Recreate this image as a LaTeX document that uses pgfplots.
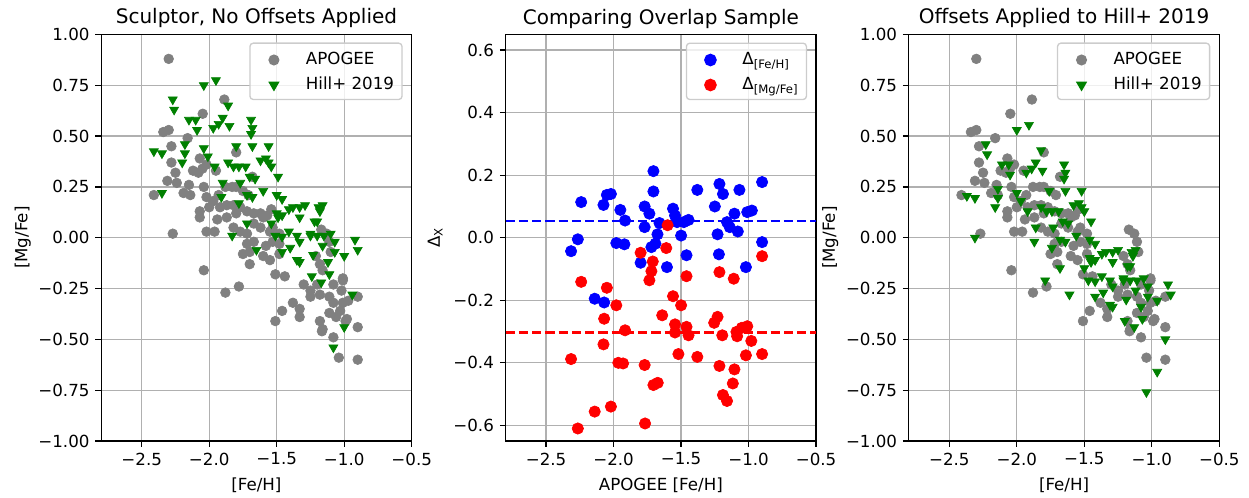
\documentclass[border=0pt]{standalone}
\usepackage{fontspec}
\setmainfont{DejaVu Sans}
\usepackage{pgfplots}
\pgfplotsset{compat=1.18}
\definecolor{mgray}{HTML}{808080}
\definecolor{mgreen}{HTML}{008000}
\definecolor{mblue}{HTML}{0000FF}
\definecolor{mred}{HTML}{FF0000}
\definecolor{gridc}{HTML}{B0B0B0}
\definecolor{legedge}{HTML}{CCCCCC}

\pgfplotstableread{
x y
-2.30 0.88
-1.888 0.68
-2.048 0.61
-2.30 0.53
-2.34 0.52
-2.16 0.49
-2.28 0.45
-1.80 0.42
-2.28 0.37
-2.07 0.39
-2.12 0.33
-2.08 0.32
-2.05 0.34
-2.02 0.36
-1.95 0.33
-1.68 0.30
-2.25 0.32
-2.31 0.28
-2.24 0.27
-2.15 0.26
-2.41 0.21
-2.19 0.22
-2.14 0.21
-2.04 0.25
-2.02 0.20
-1.97 0.18
-1.93 0.21
-1.88 0.25
-1.83 0.25
-1.80 0.25
-1.75 0.23
-1.71 0.21
-2.07 0.13
-2.07 0.10
-2.00 0.15
-1.92 0.15
-1.87 0.16
-1.82 0.16
-1.77 0.15
-1.72 0.13
-1.67 0.12
-1.62 0.12
-1.57 0.11
-1.54 0.14
-2.27 0.02
-2.02 0.03
-1.96 0.03
-1.82 0.05
-1.77 0.03
-1.72 0.02
-1.67 0.07
-1.62 0.05
-1.55 0.03
-1.17 0.04
-1.94 0.09
-1.87 0.10
-1.80 0.12
-1.60 0.10
-1.53 0.05
-1.48 0.02
-1.72 -0.03
-1.70 -0.07
-1.75 -0.08
-1.67 -0.02
-1.70 -0.13
-1.60 -0.09
-1.55 -0.11
-1.58 -0.04
-1.53 -0.02
-1.48 -0.03
-1.48 -0.08
-2.04 -0.16
-1.51 -0.18
-1.44 -0.19
-1.88 -0.27
-1.78 -0.24
-1.30 -0.23
-1.25 -0.26
-1.20 -0.23
-1.25 -0.29
-1.18 -0.28
-1.13 0.02
-1.11 -0.02
-1.10 -0.07
-1.21 -0.09
-1.18 -0.13
-1.16 -0.16
-1.08 -0.23
-1.01 -0.21
-1.01 -0.20
-1.02 -0.26
-1.11 -0.29
-1.08 -0.32
-1.01 -0.32
-1.03 -0.36
-0.98 -0.40
-0.99 -0.41
-1.38 -0.32
-1.33 -0.35
-1.46 -0.36
-1.33 -0.39
-1.51 -0.41
-1.18 -0.41
-1.16 -0.45
-1.165 -0.46
-1.08 -0.49
-1.11 -0.37
-1.06 -0.39
-1.04 -0.59
-0.90 -0.44
-0.90 -0.60
-0.90 -0.29
-0.97 -0.31
}\apogee

\pgfplotstableread{
x y
-1.95 0.775
-2.04 0.75
-2.27 0.68
-2.26 0.63
-2.15 0.58
-2.10 0.58
-2.09 0.53
-1.97 0.54
-1.93 0.56
-1.90 0.59
-1.85 0.55
-1.86 0.65
-1.69 0.58
-1.68 0.54
-1.69 0.51
-2.41 0.425
-2.35 0.415
-2.18 0.46
-2.18 0.415
-2.20 0.37
-2.04 0.44
-2.01 0.40
-1.80 0.45
-1.68 0.45
-1.56 0.45
-1.96 0.35
-1.86 0.37
-1.82 0.35
-1.78 0.35
-1.73 0.35
-1.62 0.38
-1.58 0.39
-1.56 0.37
-1.54 0.35
-1.49 0.30
-1.70 0.30
-1.66 0.29
-1.90 0.27
-1.77 0.27
-2.35 0.22
-1.91 0.20
-1.72 0.21
-1.68 0.20
-1.60 0.23
-1.78 0.17
-1.50 0.21
-1.46 0.19
-1.41 0.14
-1.38 0.15
-1.33 0.15
-1.29 0.16
-1.33 0.10
-1.19 0.15
-1.16 0.16
-1.18 0.13
-1.20 0.08
-1.50 0.12
-1.49 0.10
-1.72 0.07
-1.54 0.07
-1.83 0.01
-1.25 0.01
-1.20 0.01
-1.15 0.01
-1.10 0.02
-0.92 -0.01
-1.46 0.11
-1.22 0.08
-1.51 0.01
-1.46 0.005
-1.41 0.03
-1.35 0.01
-1.33 -0.02
-1.25 0.02
-1.07 -0.02
-1.16 -0.04
-1.07 -0.07
-1.00 -0.09
-1.65 -0.06
-1.46 -0.07
-1.40 -0.05
-1.35 -0.11
-1.33 -0.12
-1.23 -0.085
-1.12 -0.12
-1.11 -0.18
-1.24 -0.19
-1.17 -0.22
-0.90 -0.06
-0.94 -0.28
-1.00 -0.44
-1.08 -0.54
}\hillraw

\pgfplotstableread{
x y
-1.91 0.555
-2.00 0.53
-2.23 0.46
-2.22 0.41
-2.11 0.36
-2.06 0.36
-2.05 0.31
-1.93 0.32
-1.89 0.34
-1.86 0.37
-1.81 0.33
-1.82 0.43
-1.65 0.36
-1.64 0.32
-1.65 0.29
-2.37 0.205
-2.31 0.195
-2.14 0.24
-2.14 0.195
-2.16 0.15
-2.00 0.22
-1.97 0.18
-1.76 0.23
-1.64 0.23
-1.52 0.23
-1.92 0.13
-1.82 0.15
-1.78 0.13
-1.74 0.13
-1.69 0.13
-1.58 0.16
-1.54 0.17
-1.52 0.15
-1.50 0.13
-1.45 0.08
-1.66 0.08
-1.62 0.07
-1.86 0.05
-1.73 0.05
-2.31 0.00
-1.87 -0.02
-1.68 -0.01
-1.64 -0.02
-1.56 0.01
-1.74 -0.05
-1.46 -0.01
-1.42 -0.03
-1.37 -0.08
-1.34 -0.07
-1.29 -0.07
-1.25 -0.06
-1.29 -0.12
-1.15 -0.07
-1.12 -0.06
-1.14 -0.09
-1.16 -0.14
-1.46 -0.10
-1.45 -0.12
-1.68 -0.15
-1.50 -0.15
-1.79 -0.21
-1.21 -0.21
-1.16 -0.21
-1.11 -0.21
-1.06 -0.20
-0.88 -0.23
-1.42 -0.11
-1.18 -0.14
-1.47 -0.21
-1.42 -0.215
-1.37 -0.19
-1.31 -0.21
-1.29 -0.24
-1.21 -0.20
-1.03 -0.24
-1.12 -0.26
-1.03 -0.29
-0.96 -0.31
-1.61 -0.28
-1.42 -0.29
-1.36 -0.27
-1.31 -0.33
-1.29 -0.34
-1.19 -0.305
-1.08 -0.34
-1.07 -0.40
-1.20 -0.41
-1.13 -0.44
-0.86 -0.28
-0.90 -0.50
-0.96 -0.66
-1.04 -0.76
}\hillshift

\pgfplotstableread{
x y
-1.705 0.213
-0.90 0.178
-1.705 0.148
-1.38 0.153
-1.216 0.172
-1.19 0.14
-1.068 0.153
-2.24 0.114
-2.075 0.105
-2.05 0.137
-2.02 0.14
-1.95 0.089
-1.915 0.055
-1.77 0.10
-1.735 0.077
-1.77 0.034
-1.66 0.047
-1.675 0.011
-1.56 0.093
-1.545 0.071
-1.53 0.05
-1.445 0.057
-1.48 0.05
-1.50 0.007
-1.25 0.10
-1.105 0.077
-1.16 0.05
-1.14 0.034
-1.08 0.02
-1.01 0.082
-0.976 0.087
-1.23 0.011
-2.265 -0.005
-2.315 -0.043
-1.98 -0.017
-1.92 -0.021
-1.80 -0.08
-1.72 -0.03
-1.69 -0.019
-1.605 -0.094
-1.46 -0.056
-1.22 -0.053
-1.02 -0.094
-0.90 -0.014
-2.14 -0.195
-2.07 -0.207
}\dfeh

\pgfplotstableread{
x y
-1.60 0.04
-1.80 -0.048
-1.61 -0.033
-1.71 -0.076
-1.72 -0.107
-1.735 -0.136
-2.24 -0.141
-2.05 -0.16
-1.46 -0.123
-1.216 -0.11
-1.11 -0.131
-0.90 -0.059
-1.56 -0.187
-1.50 -0.216
-1.98 -0.216
-2.07 -0.259
-1.64 -0.248
-1.915 -0.296
-1.545 -0.277
-1.46 -0.285
-1.545 -0.303
-1.445 -0.312
-1.255 -0.272
-1.23 -0.253
-1.195 -0.312
-1.09 -0.301
-1.05 -0.288
-1.01 -0.283
-1.085 -0.315
-0.98 -0.33
-2.075 -0.341
-2.315 -0.388
-1.965 -0.40
-1.93 -0.402
-1.52 -0.372
-1.38 -0.381
-1.02 -0.376
-0.90 -0.372
-1.77 -0.407
-1.216 -0.41
-1.105 -0.421
-1.117 -0.466
-1.705 -0.471
-1.673 -0.464
-1.19 -0.503
-1.16 -0.522
-2.14 -0.556
-2.02 -0.54
-2.265 -0.61
-1.767 -0.594
}\dmgfe

\pgfplotsset{
  panel/.style={
    scale only axis, width=186.3pt, height=243.9pt, anchor=south west,
    xmin=-2.8, xmax=-0.5,
    xtick={-2.5,-2,-1.5,-1,-0.5},
    xticklabels={−2.5,−2.0,−1.5,−1.0,−0.5},
    xtick pos=left, ytick pos=left,
    tick align=outside, major tick length=3.5pt,
    tick style={black, line width=0.8pt},
    axis line style={line width=0.8pt},
    grid=major, major grid style={gridc, line width=0.8pt},
    tick label style={font=\fontsize{10}{12}\selectfont},
    label style={font=\fontsize{10}{12}\selectfont},
    title style={font=\fontsize{12}{14}\selectfont, at={(0.5,1)}, anchor=base, yshift=0.3pt},
    xlabel style={at={(axis description cs:0.5,0)}, anchor=base, yshift=-30pt},
    legend cell align=left,
    legend style={at={(1,1)}, anchor=north east, xshift=-5.4pt, yshift=-4.8pt,
      draw=legedge, line width=0.8pt, rounded corners=2pt, fill=white, fill opacity=0.8,
      text opacity=1, inner xsep=4.8pt, inner ysep=1.9pt, row sep=0pt,
      font=\fontsize{10}{12}\selectfont,
      nodes={inner xsep=0pt, inner ysep=0pt, text height=11.15pt, text depth=3.85pt}},
    legend image code/.code={\path[draw=none] (0pt,0pt) -- (28.8pt,0pt);
      \path[#1, draw=none, fill opacity=1] plot coordinates {(9.6pt,-0.7pt)};},
  },
  apo/.style={only marks, mark=*, mark size=2.9pt, mgray, mark options={draw=none, fill=mgray}},
  hil/.style={only marks, mark=triangle*, mark size=3.1pt, mgreen, mark options={draw=none, fill=mgreen, rotate=180}},
}

\begin{document}
\begin{tikzpicture}
\useasboundingbox (0pt,0pt) rectangle (749.4pt,298.8pt);

% Panel 1
\begin{axis}[panel, at={(60.72pt,34.2pt)},
  ymin=-1, ymax=1,
  ytick={-1,-0.75,-0.5,-0.25,0,0.25,0.5,0.75,1},
  yticklabels={−1.00,−0.75,−0.50,−0.25,0.00,0.25,0.50,0.75,1.00},
  title={Sculptor, No Offsets Applied},
  xlabel={[Fe/H]}, ylabel={[Mg/Fe]},
  ylabel style={at={(axis description cs:-0.238,0.5)}, anchor=base, rotate=0},
]
\addplot[apo] table[x=x,y=y] {\apogee};
\addlegendentry{APOGEE}
\addplot[hil] table[x=x,y=y] {\hillraw};
\addlegendentry{Hill+ 2019}
\end{axis}

% Panel 2
\begin{axis}[panel, at={(303.36pt,34.2pt)},
  ymin=-0.65, ymax=0.65,
  ytick={-0.6,-0.4,-0.2,0,0.2,0.4,0.6},
  yticklabels={−0.6,−0.4,−0.2,0.0,0.2,0.4,0.6},
  title={Comparing Overlap Sample},
  xlabel={APOGEE [Fe/H]}, ylabel={Δ\textsubscript{X}},
  ylabel style={at={(axis description cs:-0.2115,0.5)}, anchor=base, rotate=0},
]
\addplot[only marks, mark=*, mark size=3.4pt, mblue, mark options={draw=none, fill=mblue}] table[x=x,y=y] {\dfeh};
\addlegendentry{Δ\textsubscript{[Fe/H]}}
\addplot[only marks, mark=*, mark size=3.4pt, mred, mark options={draw=none, fill=mred}] table[x=x,y=y] {\dmgfe};
\addlegendentry{Δ\textsubscript{[Mg/Fe]}}
\addplot[mblue, line width=1.5pt, dash pattern=on 5.55pt off 2.4pt, forget plot] coordinates {(-2.8,0.053) (-0.5,0.053)};
\addplot[mred, line width=1.5pt, dash pattern=on 5.55pt off 2.4pt, forget plot] coordinates {(-2.8,-0.303) (-0.5,-0.303)};
\end{axis}

% Panel 3
\begin{axis}[panel, at={(545.28pt,34.2pt)},
  ymin=-1, ymax=1,
  ytick={-1,-0.75,-0.5,-0.25,0,0.25,0.5,0.75,1},
  yticklabels={−1.00,−0.75,−0.50,−0.25,0.00,0.25,0.50,0.75,1.00},
  title={Offsets Applied to Hill+ 2019},
  xlabel={[Fe/H]}, ylabel={[Mg/Fe]},
  ylabel style={at={(axis description cs:-0.238,0.5)}, anchor=base, rotate=0},
]
\addplot[apo] table[x=x,y=y] {\apogee};
\addlegendentry{APOGEE}
\addplot[hil] table[x=x,y=y] {\hillshift};
\addlegendentry{Hill+ 2019}
\end{axis}
\end{tikzpicture}
\end{document}
